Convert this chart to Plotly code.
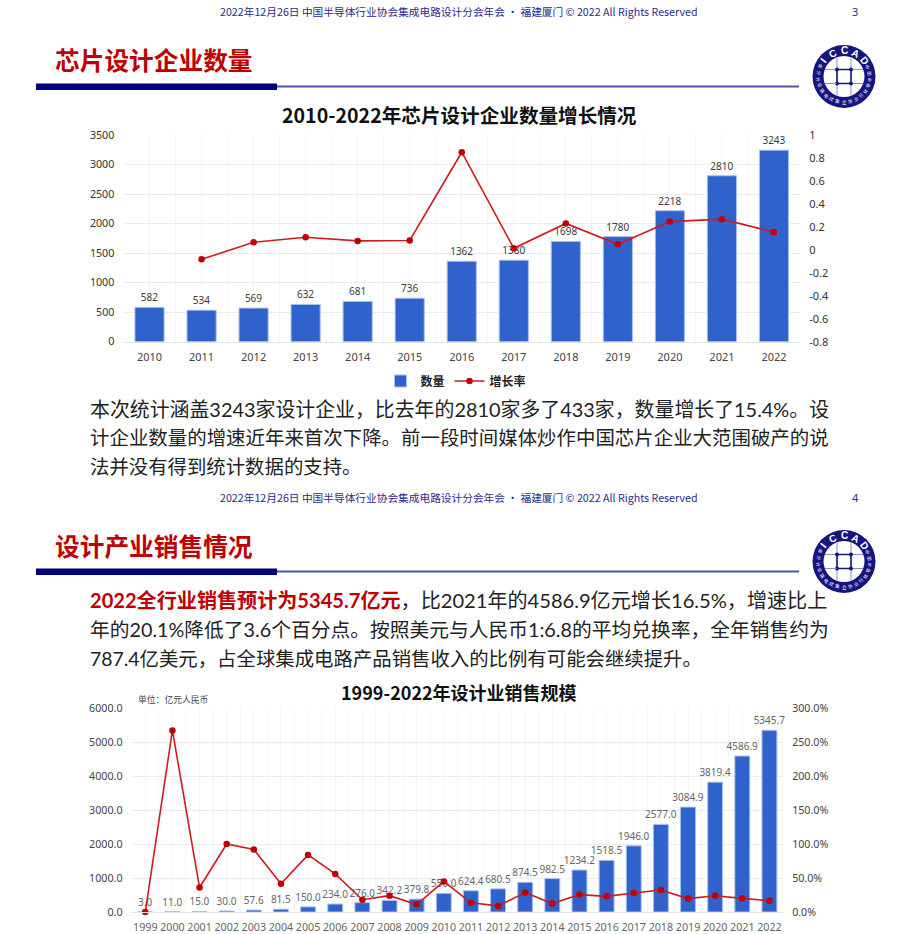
import math
import plotly.graph_objects as go

W, H = 918, 934
CJK = 'Noto Sans CJK SC'
BODY_FONT = 'Lato, Noto Sans CJK SC'
TICK_FONT = 'Noto Sans, Noto Sans CJK SC'
# plotly keeps 8px clear above and below the paper area once the legend is placed
PAD = 8

###############################################################################
# Data
###############################################################################
years_a = [2010, 2011, 2012, 2013, 2014, 2015, 2016, 2017, 2018, 2019, 2020, 2021, 2022]
firms = [582, 534, 569, 632, 681, 736, 1362, 1380, 1698, 1780, 2218, 2810, 3243]
firm_growth = [None, -0.083, 0.066, 0.11, 0.078, 0.081, 0.85, 0.013, 0.23, 0.048, 0.246, 0.267, 0.154]
firm_ticks = [0, 500, 1000, 1500, 2000, 2500, 3000, 3500]
rate_ticks = [-0.8, -0.6, -0.4, -0.2, 0, 0.2, 0.4, 0.6, 0.8, 1]
rate_labels = ['-0.8', '-0.6', '-0.4', '-0.2', '0', '0.2', '0.4', '0.6', '0.8', '1']

years_b = [1999, 2000, 2001, 2002, 2003, 2004, 2005, 2006, 2007, 2008, 2009, 2010,
           2011, 2012, 2013, 2014, 2015, 2016, 2017, 2018, 2019, 2020, 2021, 2022]
sales = [3.0, 11.0, 15.0, 30.0, 57.6, 81.5, 150.0, 234.0, 276.0, 342.2, 379.8, 550.0,
         624.4, 680.5, 874.5, 982.5, 1234.2, 1518.5, 1946.0, 2577.0, 3084.9, 3819.4, 4586.9, 5345.7]
sales_growth = [0, 2.67, 0.36, 1.0, 0.92, 0.415, 0.84, 0.56, 0.18, 0.24, 0.11, 0.45,
                0.135, 0.09, 0.285, 0.124, 0.256, 0.23, 0.28, 0.324, 0.197, 0.238, 0.201, 0.165]
sales_ticks = [0, 1000, 2000, 3000, 4000, 5000, 6000]
pct_ticks = [0, 0.5, 1, 1.5, 2, 2.5, 3]

FOOTER = '2022年12月26日 中国半导体行业协会集成电路设计分会年会 · 福建厦门 © 2022 All Rights Reserved'
BODY_A = [
    '本次统计涵盖3243家设计企业，比去年的2810家多了433家，数量增长了15.4%。设',
    '计企业数量的增速近年来首次下降。前一段时间媒体炒作中国芯片企业大范围破产的说',
    '法并没有得到统计数据的支持。',
]
BODY_B = [
    '<b><span style="color:#c00000">2022全行业销售预计为5345.7亿元</span></b>，比2021年的4586.9亿元增长16.5%，增速比上',
    '年的20.1%降低了3.6个百分点。按照美元与人民币1:6.8的平均兑换率，全年销售约为',
    '787.4亿美元，占全球集成电路产品销售收入的比例有可能会继续提升。',
]

BAR = '#2f63cb'
BAR_EDGE = '#a8c0ee'
RED = '#cf1a20'
DOT = '#c00000'
GRID = '#ececec'
VGRID = '#f5f5f5'

###############################################################################
# Helpers (pixel positions -> paper coordinates)
###############################################################################
def px(x):
    return x / W

def py(y):
    return 1 - (y - PAD) / (H - 2 * PAD)

annots = []
shapes = []

def label(x, y, text, size, color='#222222', anchor='left', angle=0, family=CJK, bold=False):
    annots.append(dict(
        x=px(x), y=py(y), xref='paper', yref='paper', text=text, showarrow=False,
        xanchor=anchor, yanchor='middle', textangle=angle, borderpad=0, borderwidth=0,
        font=dict(family=family, size=size, color=color, weight=700 if bold else 400),
    ))

def rect(x0, y0, x1, y1, color):
    shapes.append(dict(type='rect', xref='paper', yref='paper', x0=px(x0), x1=px(x1),
                       y0=py(y0), y1=py(y1), fillcolor=color, line_width=0))

def line(x0, y0, x1, y1, color, width=1):
    shapes.append(dict(type='line', xref='paper', yref='paper', x0=px(x0), x1=px(x1),
                       y0=py(y0), y1=py(y1), line=dict(color=color, width=width)))

def circle(cx, cy, r, color):
    shapes.append(dict(type='circle', xref='paper', yref='paper', x0=px(cx - r), x1=px(cx + r),
                       y0=py(cy + r), y1=py(cy - r), fillcolor=color, line_width=0))

def logo(cx, cy):
    circle(cx, cy, 31.5, '#15157f')
    circle(cx, cy, 20.5, '#ffffff')
    for d in (-7, 7):
        line(cx - 19, cy + d, cx + 19, cy + d, '#8d8db8', 1)
        line(cx + d, cy - 19, cx + d, cy + 19, '#8d8db8', 1)
        for e in (-7, 7):
            circle(cx + d, cy + e, 2, '#15157f')
    line(cx - 7, cy - 7, cx + 7, cy - 7, '#15157f', 1.5)
    line(cx - 7, cy + 7, cx + 7, cy + 7, '#15157f', 1.5)
    line(cx - 7, cy - 7, cx - 7, cy + 7, '#15157f', 1.5)
    line(cx + 7, cy - 7, cx + 7, cy + 7, '#15157f', 1.5)
    for ch, a in zip('ICCAD', (-52, -26, 0, 26, 52)):
        t = math.radians(a)
        label(cx + 26 * math.sin(t), cy - 26 * math.cos(t), ch, 10, '#ffffff', 'center', a,
              'Liberation Sans', True)
    ring = '中国半导体行业协会集成电路设计分会'
    for i, ch in enumerate(ring):
        a = 112 - i * 224 / (len(ring) - 1)
        t = math.radians(a)
        label(cx + 26 * math.sin(t), cy + 26 * math.cos(t), ch, 4.5, '#ffffff', 'center', -a)

def slide_head(top, page, heading):
    label(459, top + 12, FOOTER, 10.7, '#2a2a8c', 'center')
    label(855, top + 12, page, 11, '#2a2a8c', 'center', family='Noto Sans')
    label(55, top + 59.5, heading, 24.7, '#c00000', bold=True)
    rect(277, top + 85.5, 799, top + 87.5, '#4a52a8')
    rect(36, top + 83.5, 277, top + 90, '#000080')
    logo(844, top + 76.5)

###############################################################################
# Page furniture
###############################################################################
slide_head(0, '3', '芯片设计企业数量')
slide_head(485, '4', '设计产业销售情况')

label(459, 114.5, '2010-2022年芯片设计企业数量增长情况', 19.6, '#111111', 'center', bold=True)
label(459, 692, '1999-2022年设计业销售规模', 18, '#111111', 'center', bold=True)
label(138, 699, '单位：亿元人民币', 8.8, '#444444')

# the original text is justified, so each line gets its own size to reach the right edge
for i, (s, size) in enumerate(zip(BODY_A, (19.9, 19.45, 19.4))):
    label(90, 409 + i * 28.6, s, size, '#222222', family=BODY_FONT)
for i, (s, size) in enumerate(zip(BODY_B, (20.1, 19.75, 19.4))):
    label(90, 599.5 + i * 29.5, s, size, '#222222', family=BODY_FONT)

###############################################################################
# Charts
###############################################################################
fig = go.Figure()
fig.add_trace(go.Bar(
    x=years_a, y=firms, name='数量', width=0.56, xaxis='x', yaxis='y',
    marker=dict(color=BAR, line=dict(color=BAR_EDGE, width=1)),
    text=firms, textposition='outside', cliponaxis=False, constraintext='none', textangle=0,
    textfont=dict(family=TICK_FONT, size=10, color='#3a3a3a'),
))
fig.add_trace(go.Scatter(
    x=years_a, y=firm_growth, name='增长率', mode='lines+markers', xaxis='x', yaxis='y2',
    line=dict(color=RED, width=1.6), marker=dict(color=DOT, size=6.5),
))
fig.add_trace(go.Bar(
    x=years_b, y=sales, width=0.55, xaxis='x3', yaxis='y3', showlegend=False,
    marker=dict(color=BAR, line=dict(color=BAR_EDGE, width=1)),
    text=[f'{v:.1f}' for v in sales], textposition='outside', cliponaxis=False,
    constraintext='none', textangle=0,
    textfont=dict(family=TICK_FONT, size=10, color='#666666'),
))
fig.add_trace(go.Scatter(
    x=years_b, y=sales_growth, mode='lines+markers', xaxis='x3', yaxis='y4', showlegend=False,
    line=dict(color=RED, width=1.6), marker=dict(color=DOT, size=6.5), cliponaxis=False,
))

def x_axis(years, left, right, anchor, size, color):
    return dict(
        domain=[px(left), px(right)], anchor=anchor, range=[years[0] - 0.5, years[-1] + 0.5],
        tickvals=years, ticktext=[str(y) for y in years],
        tickfont=dict(family=TICK_FONT, size=size, color=color),
        ticks='outside', ticklen=5, tickcolor='rgba(0,0,0,0)', tickangle=0,
        showgrid=True, gridcolor=VGRID, gridwidth=1, zeroline=False,
        showline=True, linecolor='#e4e4e4', linewidth=1,
        minor=dict(dtick=1, tick0=years[0] - 0.5, showgrid=True, gridcolor=VGRID, gridwidth=1, ticks=''),
    )

def y_axis(top, bottom, rng, ticks, size, color, anchor, fmt=None, labels=None):
    ax = dict(
        domain=[py(bottom), py(top)], anchor=anchor, range=rng, tickvals=ticks,
        tickfont=dict(family=TICK_FONT, size=size, color=color),
        ticks='outside', ticklen=6, tickcolor='rgba(0,0,0,0)',
        showgrid=True, gridcolor=GRID, gridwidth=1, zeroline=False, showline=False,
    )
    if fmt:
        ax['tickformat'] = fmt
    if labels:
        ax['ticktext'] = labels
    return ax

y2 = y_axis(135, 341.7, [-0.8, 1], rate_ticks, 11, '#333333', 'x', labels=rate_labels)
y2.update(overlaying='y', side='right', showgrid=False)
y4 = y_axis(708, 912, [0, 3], pct_ticks, 10.7, '#444444', 'x3', fmt='.1%')
y4.update(overlaying='y3', side='right', showgrid=False)

fig.update_layout(
    width=W, height=H, autosize=False, margin=dict(l=0, r=0, t=0, b=0),
    paper_bgcolor='#ffffff', plot_bgcolor='#ffffff', barmode='overlay',
    showlegend=True,
    legend=dict(
        orientation='h', x=px(456), y=py(381), xanchor='center', yanchor='middle',
        font=dict(family=CJK, size=12, color='#222222', weight=700), bgcolor='rgba(0,0,0,0)',
    ),
    xaxis=x_axis(years_a, 123.5, 800, 'y', 11, '#444444'),
    yaxis=y_axis(135, 341.7, [0, 3500], firm_ticks, 10.7, '#333333', 'x'),
    yaxis2=y2,
    xaxis3=x_axis(years_b, 131.7, 783, 'y3', 10.7, '#666666'),
    yaxis3=y_axis(708, 912, [0, 6000], sales_ticks, 10.7, '#444444', 'x3', fmt='.1f'),
    yaxis4=y4,
    annotations=annots,
    shapes=shapes,
)
fig.write_html('out.html', config={'displayModeBar': False},
               post_script="document.body.style.margin='0';")
